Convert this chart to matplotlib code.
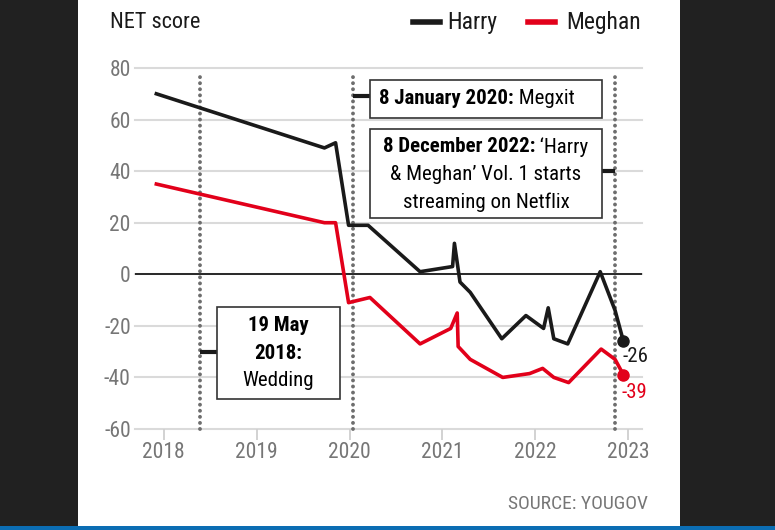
import matplotlib.pyplot as plt
from matplotlib import font_manager
from matplotlib.patches import Rectangle
import numpy as np

# pick a narrow sans if there is one
names = set(f.name for f in font_manager.fontManager.ttflist)
fam = 'DejaVu Sans'
for n in ['Liberation Sans Narrow', 'Roboto Condensed', 'Open Sans Condensed', 'Noto Sans']:
    if n in names:
        fam = n
        break
plt.rcParams['font.family'] = fam

# data (decimal year, NET score)
harry_x = [2017.92, 2019.73, 2019.85, 2019.99, 2020.20, 2020.76, 2021.11, 2021.13, 2021.19,
           2021.30, 2021.64, 2021.90, 2022.09, 2022.14, 2022.20, 2022.35, 2022.70, 2022.86, 2022.95]
harry_y = [70, 49, 51, 19, 19, 1, 3, 12, -3, -7, -25, -16, -21, -13, -25, -27, 1, -14, -26]

meghan_x = [2017.92, 2019.73, 2019.85, 2019.99, 2020.22, 2020.76, 2021.09, 2021.16, 2021.17,
            2021.30, 2021.65, 2021.94, 2022.08, 2022.20, 2022.36, 2022.71, 2022.86, 2022.95]
meghan_y = [35, 20, 20, -11, -9, -27, -21, -15, -28, -33, -40, -38.5, -36.5, -40, -42, -29, -33, -39]

event_x = [2018.39, 2020.04, 2022.86]
years = [2018, 2019, 2020, 2021, 2022, 2023]
yticks = [-60, -40, -20, 0, 20, 40, 60, 80]

RED = '#e2001a'
BLK = '#1a1a1a'
GREY = '#767676'

fig = plt.figure(figsize=(7.75, 5.3), dpi=100, facecolor='#212121')
fig.patches.append(Rectangle((78/775, 4/530), 602/775, 526/530, transform=fig.transFigure,
                             facecolor='white', edgecolor='none', zorder=-2))
fig.patches.append(Rectangle((0, 0), 1, 4/530, transform=fig.transFigure,
                             facecolor='#0b6db3', edgecolor='none', zorder=-2))

ax = fig.add_axes([135/775, (530-429)/530, (642-135)/775, (429-68)/530])
ax.set_facecolor('none')
ax.set_xlim(2017.69, 2023.15)
ax.set_ylim(-60, 80)
for s in ax.spines.values():
    s.set_visible(False)

for v in yticks:
    ax.axhline(v, color='#dadada', lw=1.5, zorder=1, clip_on=False)
ax.axhline(0, color=BLK, lw=1.3, zorder=2)

ax.set_yticks(yticks)
ax.set_yticklabels([str(v) for v in yticks])
ax.set_xticks(years)
ax.set_xticklabels([str(v) for v in years])
ax.tick_params(axis='y', length=0, pad=3, labelsize=15.5, labelcolor=GREY)
ax.tick_params(axis='x', length=8, width=1.3, color='#cfcfcf', pad=1, labelsize=15.5, labelcolor=GREY)

# event lines
for ex in event_x:
    ax.plot([ex, ex], [-60, 78], color='#6e6e6e', lw=2.8, ls=(0, (0.01, 1.55)),
            dash_capstyle='round', zorder=3, clip_on=False)

# connectors
ax.plot([event_x[0], 2018.57], [-30, -30], color=BLK, lw=3, zorder=3, solid_capstyle='butt')
ax.plot([event_x[1], 2020.22], [69, 69], color=BLK, lw=3, zorder=3, solid_capstyle='butt')
ax.plot([2022.72, event_x[2]], [40, 40], color=BLK, lw=3, zorder=3, solid_capstyle='butt')

ax.plot(harry_x, harry_y, color=BLK, lw=2.6, zorder=4)
ax.plot(meghan_x, meghan_y, color=RED, lw=2.6, zorder=4)
ax.plot(harry_x[-1], harry_y[-1], 'o', color=BLK, ms=8, zorder=5)
ax.plot(meghan_x[-1], meghan_y[-1], 'o', color=RED, ms=8, zorder=5)
ax.text(harry_x[-1] - 0.015, harry_y[-1] - 6, str(harry_y[-1]), color=BLK, fontsize=15,
        ha='left', va='center', zorder=6)
ax.text(meghan_x[-1] - 0.025, meghan_y[-1] - 7, str(meghan_y[-1]), color=RED, fontsize=15,
        ha='left', va='center', zorder=6)

# boxes
def box(x0, x1, y0, y1):
    ax.add_patch(Rectangle((x0, y0), x1 - x0, y1 - y0, facecolor='white', edgecolor='#333333',
                           lw=1.2, zorder=6))

fs = 15
box(2020.22, 2022.72, 60.7, 75.5)
ax.text(2021.77, 68, '8 January 2020:', fontsize=fs, fontweight='bold', ha='right', va='center', zorder=7)
ax.text(2021.77, 68, ' Megxit', fontsize=fs, ha='left', va='center', zorder=7)

box(2020.22, 2022.72, 22, 56.5)
ax.text(2022.0, 49.5, '8 December 2022:', fontsize=fs, fontweight='bold', ha='right', va='center', zorder=7)
ax.text(2022.0, 49.5, ' \u2018Harry', fontsize=fs, ha='left', va='center', zorder=7)
ax.text(2021.47, 38.6, '& Meghan\u2019 Vol. 1 starts', fontsize=fs, ha='center', va='center', zorder=7)
ax.text(2021.47, 27.8, 'streaming on Netflix', fontsize=fs, ha='center', va='center', zorder=7)

box(2018.57, 2019.90, -48.3, -12.6)
ax.text(2019.23, -20, '19 May', fontsize=fs, fontweight='bold', ha='center', va='center', zorder=7)
ax.text(2019.23, -30.9, '2018:', fontsize=fs, fontweight='bold', ha='center', va='center', zorder=7)
ax.text(2019.23, -41, 'Wedding', fontsize=fs, ha='center', va='center', zorder=7)

# header
fig.text(110/775, 1 - 22/530, 'NET score', fontsize=16, color=BLK, ha='left', va='center')
fig.add_artist(plt.Line2D([413/775, 440/775], [1 - 22/530] * 2, color=BLK, lw=4))
fig.text(447/775, 1 - 22/530, 'Harry', fontsize=17, color=BLK, ha='left', va='center')
fig.add_artist(plt.Line2D([528/775, 555/775], [1 - 22/530] * 2, color=RED, lw=4))
fig.text(566/775, 1 - 22/530, 'Meghan', fontsize=17, color=BLK, ha='left', va='center')

fig.text(648/775, 1 - 504/530, 'SOURCE: YOUGOV', fontsize=14, color=GREY, ha='right', va='center')

fig.savefig('out.png', dpi=100, facecolor=fig.get_facecolor())
